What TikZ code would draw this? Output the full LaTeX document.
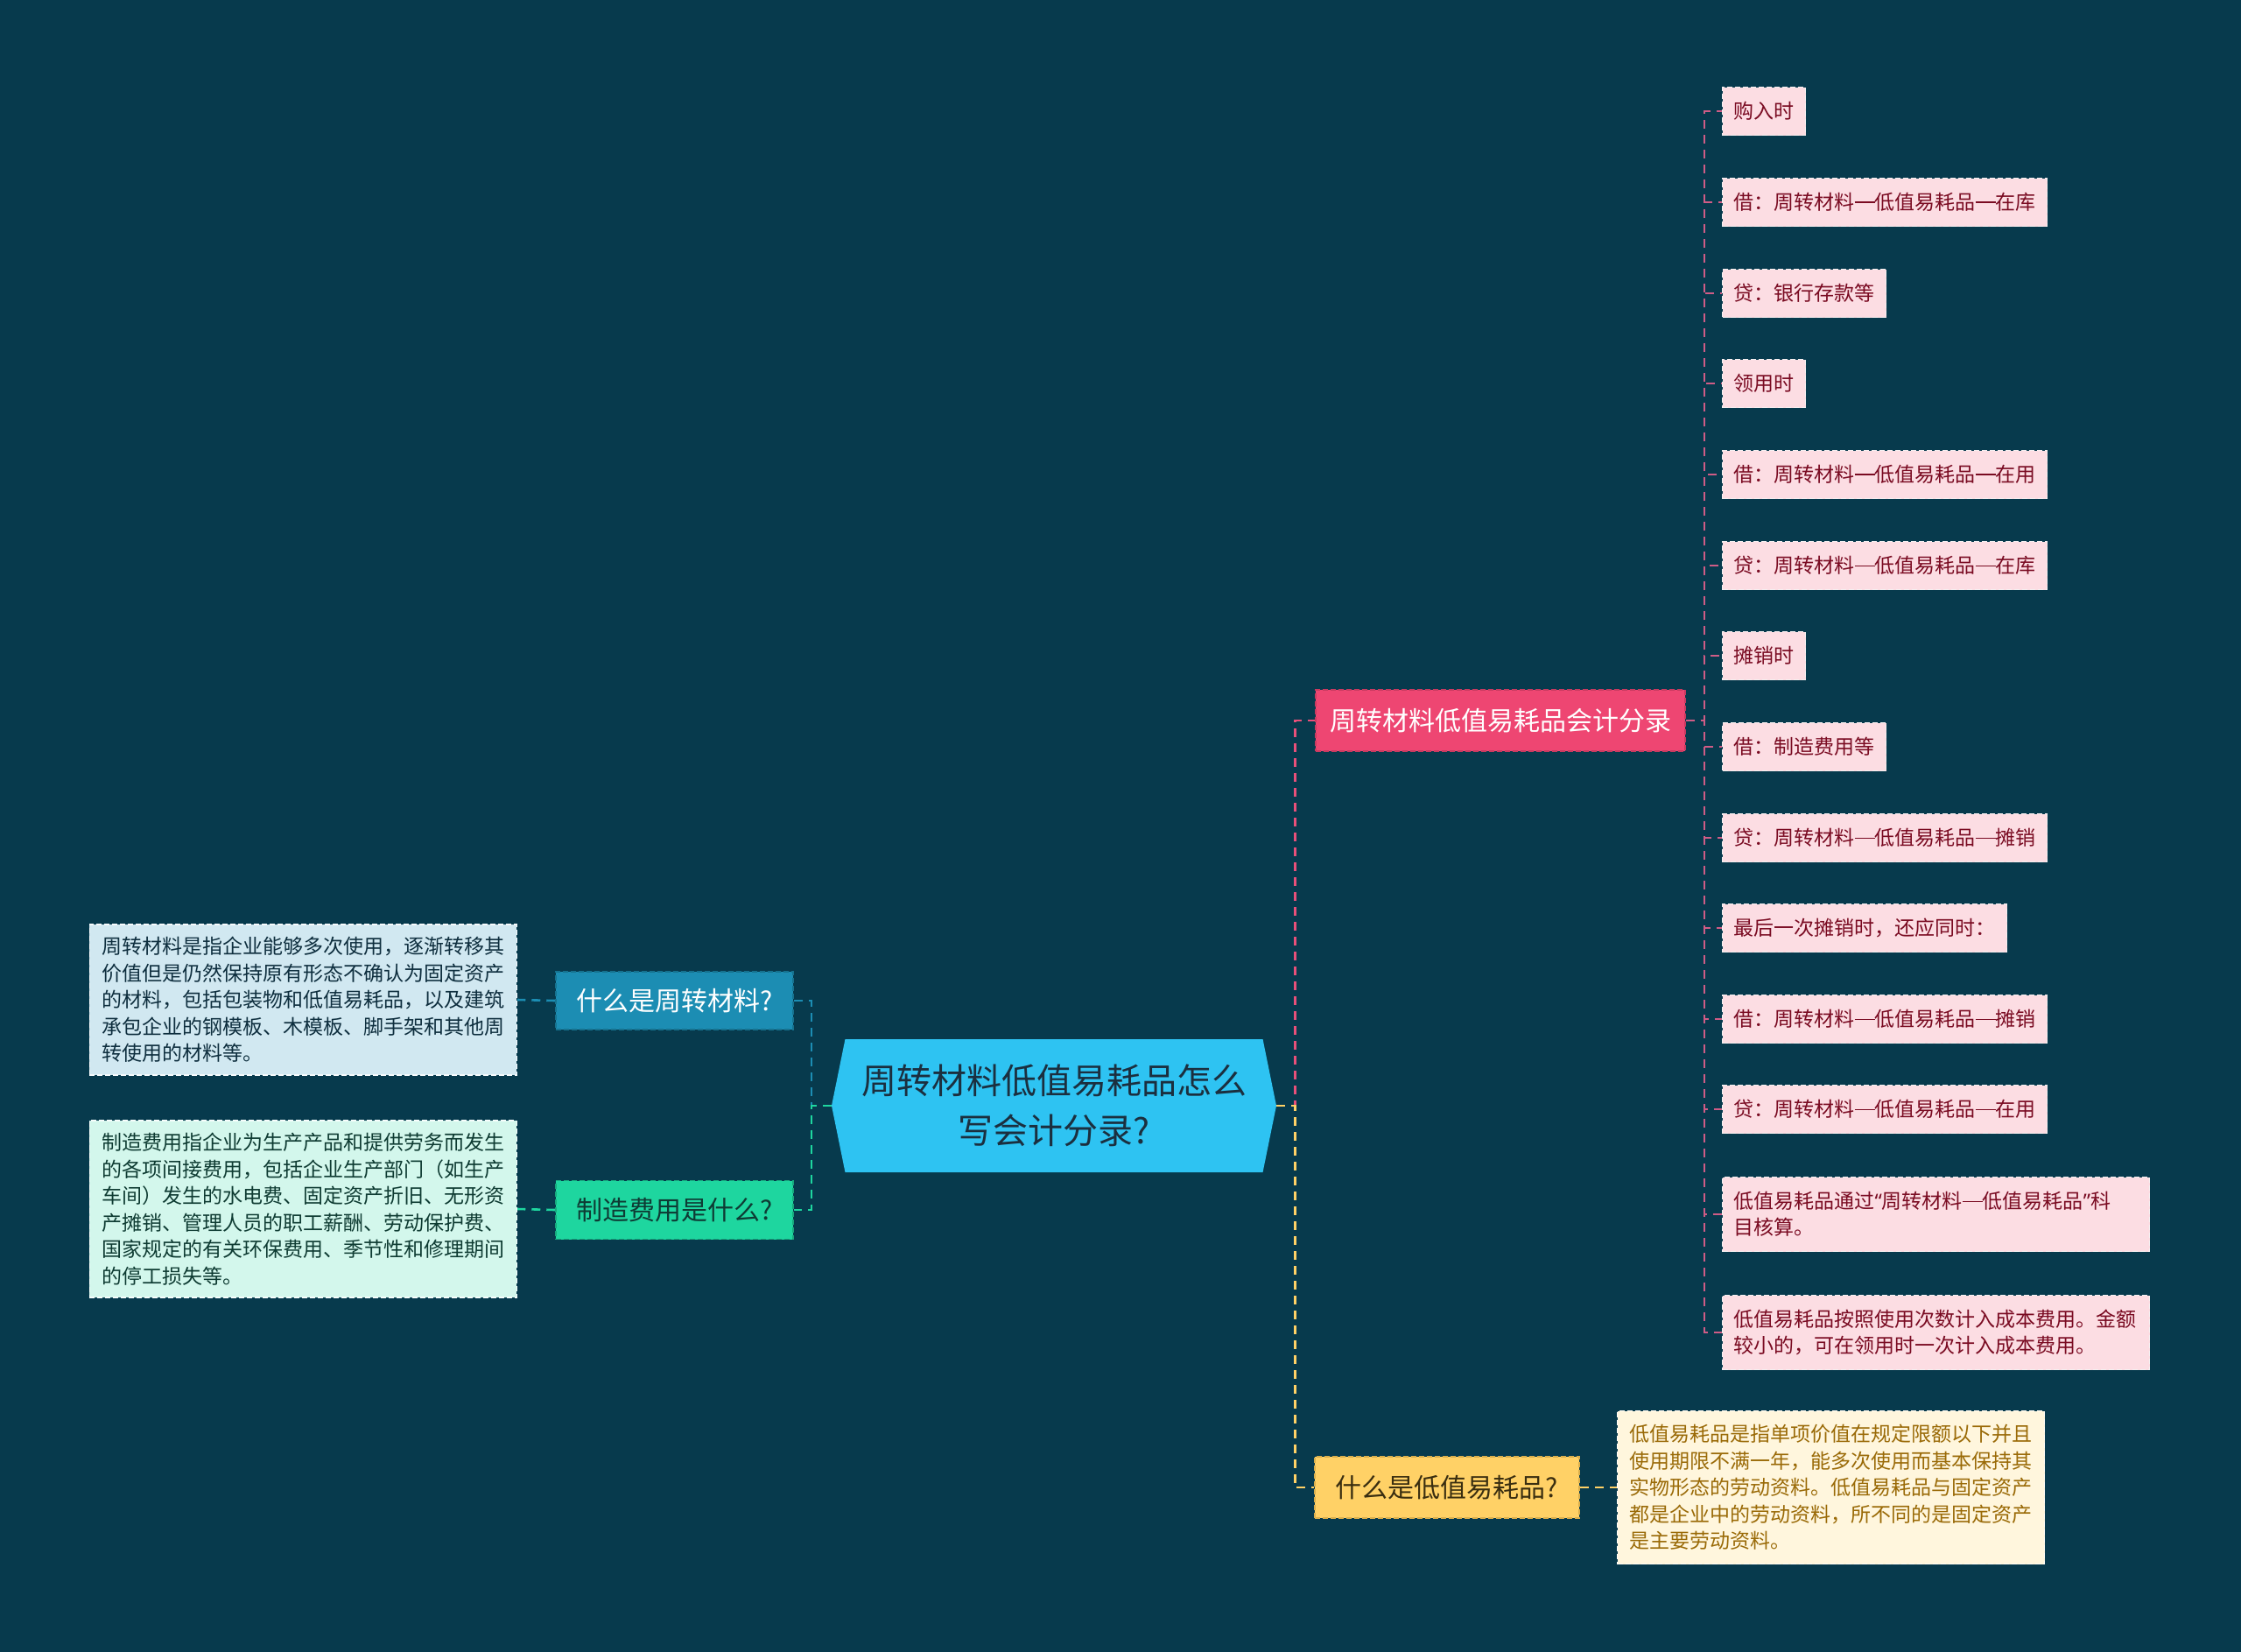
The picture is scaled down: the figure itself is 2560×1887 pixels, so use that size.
\documentclass[tikz,border=0pt]{standalone}
\usepackage{fontspec}
\newfontfamily\cjk{Noto Sans CJK SC}
\newfontfamily\latq{Noto Sans}
\usetikzlibrary{shapes.symbols}
\pgfdeclarelayer{background}
\pgfsetlayers{background,main}
\newcommand{\cjdash}{\rule[0.33em]{1em}{0.07em}}
\newcommand{\cjlq}{{\latq “}}
\newcommand{\cjrq}{{\latq ”}}
\definecolor{bg}{HTML}{073A4D}
\definecolor{cbg}{HTML}{2EC3F2}
\definecolor{ctx}{HTML}{1B2F3F}
\definecolor{redbg}{HTML}{EE4672}
\definecolor{redbd}{HTML}{C93A60}
\definecolor{redln}{HTML}{E8507A}
\definecolor{bluebg}{HTML}{1C8DB3}
\definecolor{bluebd}{HTML}{16728F}
\definecolor{greenbg}{HTML}{1ED69F}
\definecolor{greenbd}{HTML}{17A87D}
\definecolor{greentx}{HTML}{0E3B34}
\definecolor{yellowbg}{HTML}{FFD166}
\definecolor{yellowbd}{HTML}{D9AE4C}
\definecolor{yellowtx}{HTML}{3A2E10}
\definecolor{leafbg}{HTML}{FCDDE3}
\definecolor{leaftx}{HTML}{7A0B22}
\definecolor{leafbd}{HTML}{F4F0F1}
\definecolor{leafln}{HTML}{CF5C86}
\definecolor{bdbg}{HTML}{D1E8F1}
\definecolor{bdtx}{HTML}{0E2E3E}
\definecolor{gdbg}{HTML}{D3F7EC}
\definecolor{gdtx}{HTML}{0E3B32}
\definecolor{ydbg}{HTML}{FFF6DD}
\definecolor{ydtx}{HTML}{9A6A07}
\begin{document}
\begin{tikzpicture}[x=1pt,y=-1pt,
  conn/.style={line width=2.6, dash pattern=on 10 off 7},
  mainbox/.style={rectangle, inner sep=0, font=\cjk\fontsize{30}{38}\selectfont, dash pattern=on 6 off 3, line width=1.5},
  leafbox/.style={rectangle, anchor=west, align=left, inner xsep=13, inner ysep=2, minimum height=55, fill=leafbg, text=leaftx, draw=leafbd, dash pattern=on 6 off 3, line width=1.3, font=\cjk\fontsize{23}{30}\selectfont},
  descbox/.style={rectangle, align=left, inner xsep=14, inner ysep=2, dash pattern=on 6 off 3, line width=1.3, font=\cjk\fontsize{23}{30.5}\selectfont}
]
\begin{pgfonlayer}{background}
\fill[bg] (0,0) rectangle (2560,1887);
\end{pgfonlayer}
\useasboundingbox (0,0) rectangle (2560,1887);

% central
\node[signal, signal to=west and east, signal pointer angle=157, fill=cbg, text=ctx, minimum width=508, minimum height=152, inner sep=0, align=center, font=\cjk\fontsize{40}{57}\selectfont] (central) at (1204,1263) {周转材料低值易耗品怎么\\写会计分录?};

% level 1
\node[mainbox, fill=redbg, text=white, draw=redbd, minimum width=422, minimum height=70] (red) at (1714,823) {周转材料低值易耗品会计分录};
\node[mainbox, fill=bluebg, text=white, draw=bluebd, minimum width=271, minimum height=66] (blue) at (770.5,1143) {什么是周转材料?};
\node[mainbox, fill=greenbg, text=greentx, draw=greenbd, minimum width=271, minimum height=67] (green) at (770.5,1382) {制造费用是什么?};
\node[mainbox, fill=yellowbg, text=yellowtx, draw=yellowbd, minimum width=302, minimum height=70] (yellow) at (1653,1699) {什么是低值易耗品?};

% leaves
\node[leafbox] (l1) at (1967,127) {购入时};
\node[leafbox] (l2) at (1967,231) {借：周转材料\cjdash 低值易耗品\cjdash 在库};
\node[leafbox] (l3) at (1967,335) {贷：银行存款等};
\node[leafbox] (l4) at (1967,438) {领用时};
\node[leafbox] (l5) at (1967,542) {借：周转材料\cjdash 低值易耗品\cjdash 在用};
\node[leafbox] (l6) at (1967,646) {贷：周转材料\cjdash 低值易耗品\cjdash 在库};
\node[leafbox] (l7) at (1967,749) {摊销时};
\node[leafbox] (l8) at (1967,853) {借：制造费用等};
\node[leafbox] (l9) at (1967,957) {贷：周转材料\cjdash 低值易耗品\cjdash 摊销};
\node[leafbox] (l10) at (1967,1060) {最后一次摊销时，还应同时：};
\node[leafbox] (l11) at (1967,1164) {借：周转材料\cjdash 低值易耗品\cjdash 摊销};
\node[leafbox] (l12) at (1967,1267) {贷：周转材料\cjdash 低值易耗品\cjdash 在用};
\node[leafbox, minimum height=85, text width=462] (l13) at (1967,1387) {低值易耗品通过\cjlq 周转材料\cjdash 低值易耗品\cjrq 科\\目核算。};
\node[leafbox, minimum height=85, text width=462] (l14) at (1967,1522) {低值易耗品按照使用次数计入成本费用。金额\\较小的，可在领用时一次计入成本费用。};

% descriptions
\node[descbox, anchor=east, fill=bdbg, text=bdtx, draw=white!80!bdbg, minimum height=172] (bdesc) at (591,1142) {周转材料是指企业能够多次使用，逐渐转移其\\价值但是仍然保持原有形态不确认为固定资产\\的材料，包括包装物和低值易耗品，以及建筑\\承包企业的钢模板、木模板、脚手架和其他周\\转使用的材料等。};
\node[descbox, anchor=east, fill=gdbg, text=gdtx, draw=white!80!gdbg, minimum height=202] (gdesc) at (591,1381) {制造费用指企业为生产产品和提供劳务而发生\\的各项间接费用，包括企业生产部门（如生产\\车间）发生的水电费、固定资产折旧、无形资\\产摊销、管理人员的职工薪酬、劳动保护费、\\国家规定的有关环保费用、季节性和修理期间\\的停工损失等。};
\node[descbox, anchor=west, fill=ydbg, text=ydtx, draw=white!80!ydbg, minimum height=175] (ydesc) at (1847,1699) {低值易耗品是指单项价值在规定限额以下并且\\使用期限不满一年，能多次使用而基本保持其\\实物形态的劳动资料。低值易耗品与固定资产\\都是企业中的劳动资料，所不同的是固定资产\\是主要劳动资料。};

% connectors
\begin{pgfonlayer}{background}
\foreach \n in {l1,l2,l3,l4,l5,l6,l7,l8,l9,l10,l11,l12,l13,l14}
  \draw[conn, leafln, line width=2.2] (red.east) -- ++(21,0) |- (\n.west);
\draw[conn, redln] (central.east) -- ++(21,0) |- (red.west);
\draw[conn, yellowbg] (central.east) -- ++(21,0) |- (yellow.west);
\draw[conn, bluebg] (central.west) -- ++(-23,0) |- (blue.east);
\draw[conn, greenbg] (central.west) -- ++(-23,0) |- (green.east);
\draw[conn, bluebg] (blue.west) -- (bdesc.east);
\draw[conn, greenbg] (green.west) -- (gdesc.east);
\draw[conn, yellowbg] (yellow.east) -- (ydesc.west);
\end{pgfonlayer}
\end{tikzpicture}
\end{document}
